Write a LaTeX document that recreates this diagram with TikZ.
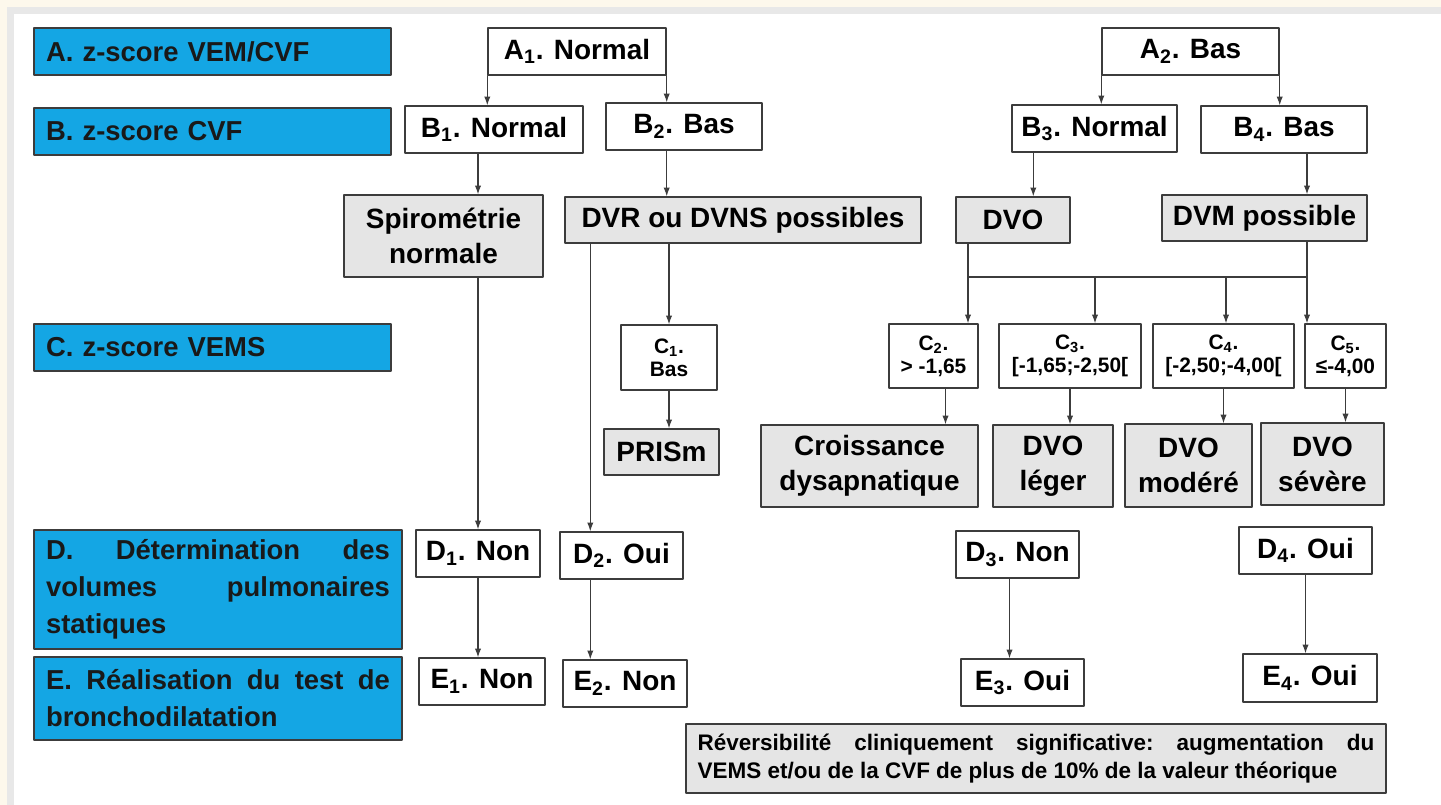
\documentclass[tikz,border=0pt]{standalone}
\usepackage{fontspec}
\setmainfont{Liberation Sans}
\usetikzlibrary{arrows.meta}
\definecolor{lblblue}{RGB}{20,166,228}
\definecolor{resgray}{RGB}{229,229,229}
\definecolor{edge}{RGB}{60,60,60}
\definecolor{cream}{RGB}{253,248,236}
\definecolor{framegray}{RGB}{232,232,232}
\newcommand{\boxfont}{\fontsize{15.9}{20}\selectfont\bfseries}
\newcommand{\lblfont}{\fontsize{15.6}{21}\selectfont\bfseries}
\newcommand{\cfont}{\fontsize{11.9}{13}\selectfont\bfseries}
\newcommand{\notefont}{\fontsize{12.8}{16}\selectfont\bfseries\frenchspacing}
\begin{document}
\begin{tikzpicture}[x=0.02cm,y=-0.02cm,line cap=round,line join=round,
  sz/.style 2 args={minimum width=#1*0.02cm,minimum height=#2*0.02cm},
  box/.style={draw=edge,line width=0.8pt,fill=white,inner sep=0pt,align=center,font=\boxfont},
  res/.style={box,fill=resgray},
  cbox/.style={box,font=\cfont},
  lbl/.style={draw=edge,line width=0.8pt,fill=lblblue,inner xsep=0.24cm,inner ysep=0pt,align=left,font=\lblfont,text=black!90},
  link/.style={draw=edge,line width=0.6pt},
  arr/.style={link,-{Latex[length=5pt,width=3.6pt]}}]
  \useasboundingbox (0,0) rectangle (1441,805);
  \fill[cream] (0,0) rectangle (1441,805);
  \fill[framegray] (7,7) rectangle (1441,805);
  \fill[white] (14,14) rectangle (1441,805);
  % row labels
  \node[lbl,sz={357}{47},text width=6.66cm] (lbla) at (212.5,51.5) {A. z-score VEM/CVF};
  \node[lbl,sz={357}{47},text width=6.66cm] (lblb) at (212.5,131.5) {B. z-score CVF};
  \node[lbl,sz={357}{47},text width=6.66cm] (lblc) at (212.5,347.5) {C. z-score VEMS};
  \node[lbl,sz={368}{119},text width=6.88cm] (lbld) at (218,589.5)
    {D.\hfill Détermination\hfill des\\ volumes\hfill pulmonaires\\ statiques};
  \node[lbl,sz={368}{83},text width=6.88cm] (lble) at (218,698.5)
    {E.\hfill Réalisation\hfill du\hfill test\hfill de\\ bronchodilatation};
  % A and B
  \node[box,sz={178}{47}] (a1) at (577,51.5) {A\textsubscript{1}. Normal};
  \node[box,sz={177}{47}] (a2) at (1190.5,51.5) {A\textsubscript{2}. Bas};
  \node[box,sz={178}{47}] (b1) at (494,129.5) {B\textsubscript{1}. Normal};
  \node[box,sz={156}{47}] (b2) at (684,126.5) {B\textsubscript{2}. Bas};
  \node[box,sz={165}{47}] (b3) at (1094.5,128.5) {B\textsubscript{3}. Normal};
  \node[box,sz={166}{47}] (b4) at (1284,129.5) {B\textsubscript{4}. Bas};
  % first results
  \node[res,sz={199}{82}] (spiro) at (443.5,236) {Spirométrie\\normale};
  \node[res,sz={356}{46}] (dvr) at (743,220) {DVR ou DVNS possibles};
  \node[res,sz={114}{46}] (dvo) at (1013,220) {DVO};
  \node[res,sz={205}{46}] (dvm) at (1264.5,218) {DVM possible};
  % C
  \node[cbox,sz={96}{65}] (c1) at (669,357.5) {C\textsubscript{1}.\\Bas};
  \node[cbox,sz={89}{64}] (c2) at (933.5,356) {C\textsubscript{2}.\\> -1,65};
  \node[cbox,sz={142}{64}] (c3) at (1070,356) {C\textsubscript{3}.\\{[}-1,65;-2,50{[}};
  \node[cbox,sz={141}{64}] (c4) at (1223.5,356) {C\textsubscript{4}.\\{[}-2,50;-4,00{[}};
  \node[cbox,sz={81}{64}] (c5) at (1345.5,356) {C\textsubscript{5}.\\≤-4,00};
  \node[res,sz={115}{46}] (prism) at (661.5,452) {PRISm};
  \node[res,sz={217}{82}] (r2) at (869.5,466) {Croissance\\dysapnatique};
  \node[res,sz={120}{82}] (r3) at (1053,466) {DVO\\léger};
  \node[res,sz={127}{83}] (r4) at (1188.5,465.5) {DVO\\modéré};
  \node[res,sz={123}{82}] (r5) at (1322.5,464) {DVO\\sévère};
  % D and E
  \node[box,sz={124}{47}] (d1) at (478,553.5) {D\textsubscript{1}. Non};
  \node[box,sz={123}{47}] (d2) at (621.5,555.5) {D\textsubscript{2}. Oui};
  \node[box,sz={123}{47}] (d3) at (1017.5,554.5) {D\textsubscript{3}. Non};
  \node[box,sz={133}{47}] (d4) at (1305.5,550.5) {D\textsubscript{4}. Oui};
  \node[box,sz={126}{47}] (e1) at (482,681.5) {E\textsubscript{1}. Non};
  \node[box,sz={124}{47}] (e2) at (625,683.5) {E\textsubscript{2}. Non};
  \node[box,sz={123}{47}] (e3) at (1022.5,682.5) {E\textsubscript{3}. Oui};
  \node[box,sz={134}{48}] (e4) at (1310,678) {E\textsubscript{4}. Oui};
  \node[res,sz={700}{69},font=\notefont,text width=13.54cm,align=justify] (note) at (1036,758.5)
    {Réversibilité cliniquement significative: augmentation du\linebreak VEMS et/ou de la CVF de plus de 10\% de la valeur théorique};
  % connectors
  \coordinate (bl) at (968,277);
  \coordinate (bm1) at (1095,277);
  \coordinate (bm2) at (1226,277);
  \coordinate (br) at (1307,277);
  \path ([xshift=0.52cm]dvr.south west) coordinate (kd);
  \draw[arr] (a1.south west) -- (a1.south west |- b1.north);
  \draw[arr] (a1.south east) -- (a1.south east |- b2.north);
  \draw[arr] (a2.south west) -- (a2.south west |- b3.north);
  \draw[arr] (a2.south east) -- (a2.south east |- b4.north);
  \draw[arr] (b1.south -| d1.north) -- (spiro.north -| d1.north);
  \draw[arr] (spiro.south -| d1.north) -- (d1.north);
  \draw[arr] (d1.south) -- (d1.south |- e1.north);
  \draw[arr] (b2.south -| a1.south east) -- (dvr.north -| a1.south east);
  \draw[arr] (dvr.south -| c1.north) -- (c1.north);
  \draw[arr] (c1.south) -- (c1.south |- prism.north);
  \draw[arr] (kd) -- (kd |- d2.north);
  \draw[arr] (kd |- d2.south) -- (kd |- e2.north);
  \draw[arr] ([xshift=0.44cm]b3.south west) -- ([xshift=0.44cm]b3.south west |- dvo.north);
  \draw[arr] (b4.south -| br) -- (dvm.north -| br);
  \draw[link] (dvo.south -| bl) -- (bl) -- (br) -- (dvm.south -| br);
  \draw[arr] (bl) -- (bl |- c2.north);
  \draw[arr] (bm1) -- (bm1 |- c3.north);
  \draw[arr] (bm2) -- (bm2 |- c4.north);
  \draw[arr] (br) -- (br |- c5.north);
  \draw[arr] ([xshift=0.24cm]c2.south) -- ([xshift=0.24cm]c2.south |- r2.north);
  \draw[arr] (c3.south) -- (c3.south |- r3.north);
  \draw[arr] (c4.south) -- (c4.south |- r4.north);
  \draw[arr] (c5.south) -- (c5.south |- r5.north);
  \draw[arr] ([xshift=-0.16cm]d3.south) -- ([xshift=-0.16cm]d3.south |- e3.north);
  \draw[arr] (d4.south) -- (d4.south |- e4.north);
\end{tikzpicture}
\end{document}
